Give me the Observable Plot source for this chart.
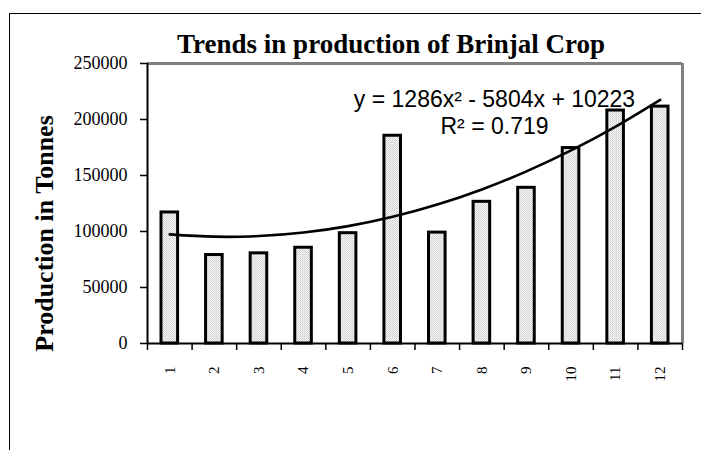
<!DOCTYPE html>
<html>
<head>
<meta charset="utf-8">
<script src="https://cdn.jsdelivr.net/npm/d3@7"></script>
<script src="https://cdn.jsdelivr.net/npm/@observablehq/plot@0.6"></script>
<style>
  html, body { margin: 0; padding: 0; background: #fff; }
  #wrap { position: relative; width: 701px; height: 450px; overflow: hidden; }
  #frame { position: absolute; left: 9px; top: 13px; width: 720px; height: 460px;
           border-left: 1.5px solid #000; border-top: 1.5px solid #000; }
  #title { position: absolute; left: 391px; top: 31px; transform: translateX(-50%);
           font: bold 27px "Liberation Serif", "Times New Roman", serif; line-height: 27px;
           white-space: nowrap; color: #000; z-index: 2; }
  #chart { position: absolute; left: 0; top: 0; }
</style>
</head>
<body>
<div id="wrap">
  <div id="frame"></div>
  <div id="title">Trends in production of Brinjal Crop</div>
  <div id="chart"></div>
</div>
<script>
// ---- data ----
const months = [1, 2, 3, 4, 5, 6, 7, 8, 9, 10, 11, 12];
const production = [117000, 79000, 80500, 85500, 98500, 185500, 99000, 126500, 139000, 174500, 208000, 211500];
const yTicks = [0, 50000, 100000, 150000, 200000, 250000];
const trendLabel = "y = 1286x\u00B2 - 5804x + 10223\nR\u00B2 = 0.719";
const titleText = "Trends in production of Brinjal Crop";
const yLabel = "Production in Tonnes";

const rows = months.map((m, i) => ({month: m, value: production[i]}));

// quadratic least-squares trend line fitted to the bars (as the spreadsheet did)
function quadFit(xs, ys) {
  let S = [0,0,0,0,0], T = [0,0,0];
  xs.forEach((x, i) => {
    for (let k = 0; k < 5; k++) S[k] += Math.pow(x, k);
    for (let k = 0; k < 3; k++) T[k] += Math.pow(x, k) * ys[i];
  });
  const A = [[S[0],S[1],S[2],T[0]],[S[1],S[2],S[3],T[1]],[S[2],S[3],S[4],T[2]]];
  for (let c = 0; c < 3; c++) {
    for (let r = c + 1; r < 3; r++) {
      const f = A[r][c] / A[c][c];
      for (let k = c; k < 4; k++) A[r][k] -= f * A[c][k];
    }
  }
  const b = [0,0,0];
  for (let r = 2; r >= 0; r--) {
    let s = A[r][3];
    for (let k = r + 1; k < 3; k++) s -= A[r][k] * b[k];
    b[r] = s / A[r][r];
  }
  return x => b[0] + b[1] * x + b[2] * x * x;
}
const fit = quadFit(months, production);
const trend = months.map(m => ({month: m, value: fit(m)}));
const bounds = d3.range(0, months.length + 1).map(i => i + 0.5);

document.getElementById("title").textContent = titleText;

const chart = Plot.plot({
  width: 701,
  height: 450,
  marginTop: 63,
  marginRight: 19,
  marginBottom: 107,
  marginLeft: 147,
  style: {fontFamily: "'Liberation Serif', 'Times New Roman', serif", background: "transparent", color: "#000"},
  x: {type: "linear", domain: [0.5, 12.5]},
  y: {domain: [0, 250000]},
  marks: [
    Plot.ruleY([250000], {stroke: "#808080", strokeWidth: 3}),
    Plot.ruleX([12.5], {stroke: "#808080", strokeWidth: 3}),
    Plot.rectY(rows, {x1: d => d.month - 0.5, x2: d => d.month + 0.5, y: "value",
      insetLeft: 14, insetRight: 14, fill: "url(#dots)", stroke: "#000", strokeWidth: 3}),
    Plot.ruleX([0.5], {stroke: "#000", strokeWidth: 2}),
    Plot.ruleY([0], {stroke: "#000", strokeWidth: 2}),
    Plot.axisY({ticks: yTicks, tickSize: 7, tickPadding: 13, fontSize: 18, label: null,
      tickFormat: d => String(d), strokeWidth: 1.5}),
    Plot.axisX({ticks: bounds, tickSize: 7, tickFormat: () => "", label: null, strokeWidth: 1.5}),
    Plot.axisX({ticks: months, tickSize: 0, tickPadding: 23, tickRotate: -90, fontSize: 15,
      label: null, tickFormat: d => String(d)}),
    Plot.line(trend, {x: "month", y: "value", stroke: "#000", strokeWidth: 2.6, curve: "natural"}),
    Plot.text([trendLabel], {frameAnchor: "top", dx: 79.5, dy: 48, lineHeight: 1.174,
      lineAnchor: "middle", textAnchor: "middle",
      fontSize: 23, fontFamily: "'Liberation Sans', Arial, sans-serif", fill: "#000"}),
    Plot.text([yLabel], {frameAnchor: "left", dx: -103, dy: 30, rotate: -90,
      textAnchor: "middle", lineAnchor: "middle",
      fontSize: 26, fontWeight: "bold", fill: "#000"})
  ]
});

const defs = document.createElementNS("http://www.w3.org/2000/svg", "defs");
defs.innerHTML = '<pattern id="dots" width="2" height="2" patternUnits="userSpaceOnUse">' +
  '<rect width="2" height="2" fill="#f4f4f4"/><rect width="1" height="1" fill="#cfcfcf"/>' +
  '<rect x="1" y="1" width="1" height="1" fill="#dcdcdc"/></pattern>';
chart.insertBefore(defs, chart.firstChild);
document.getElementById("chart").appendChild(chart);
</script>
</body>
</html>
